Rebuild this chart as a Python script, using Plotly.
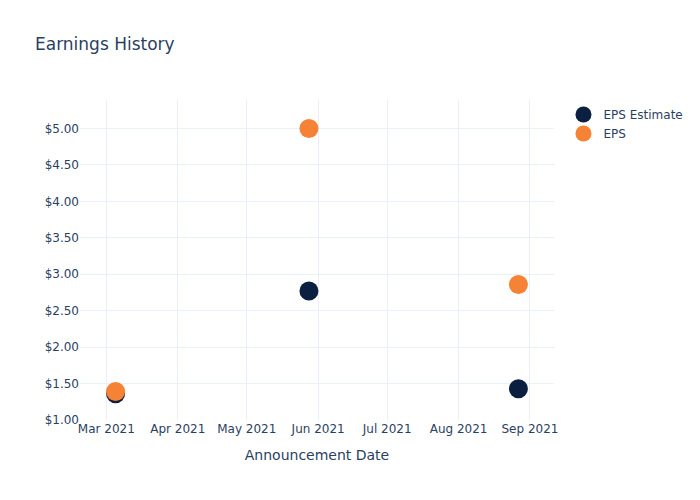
import plotly.graph_objects as go

dates = ["2021-03-05", "2021-05-28", "2021-08-27"]
eps_estimate = [1.36, 2.77, 1.43]
eps_actual = [1.39, 5.00, 2.86]

fig = go.Figure()
fig.add_trace(go.Scatter(x=dates, y=eps_estimate, mode="markers", name="EPS Estimate",
                         marker=dict(color="#0b1f40", size=19)))
fig.add_trace(go.Scatter(x=dates, y=eps_actual, mode="markers", name="EPS",
                         marker=dict(color="#f58235", size=19)))
fig.update_layout(
    template="plotly_white",
    width=700, height=500,
    font=dict(family="DejaVu Sans"),
    title=dict(text="Earnings History", x=0.05, font=dict(size=17)),
    xaxis=dict(title=dict(text="Announcement Date")),
    yaxis=dict(tickprefix="$", tickformat=".2f", dtick=0.5, range=[1.0, 5.39]),
)
fig.write_html("out.html")
